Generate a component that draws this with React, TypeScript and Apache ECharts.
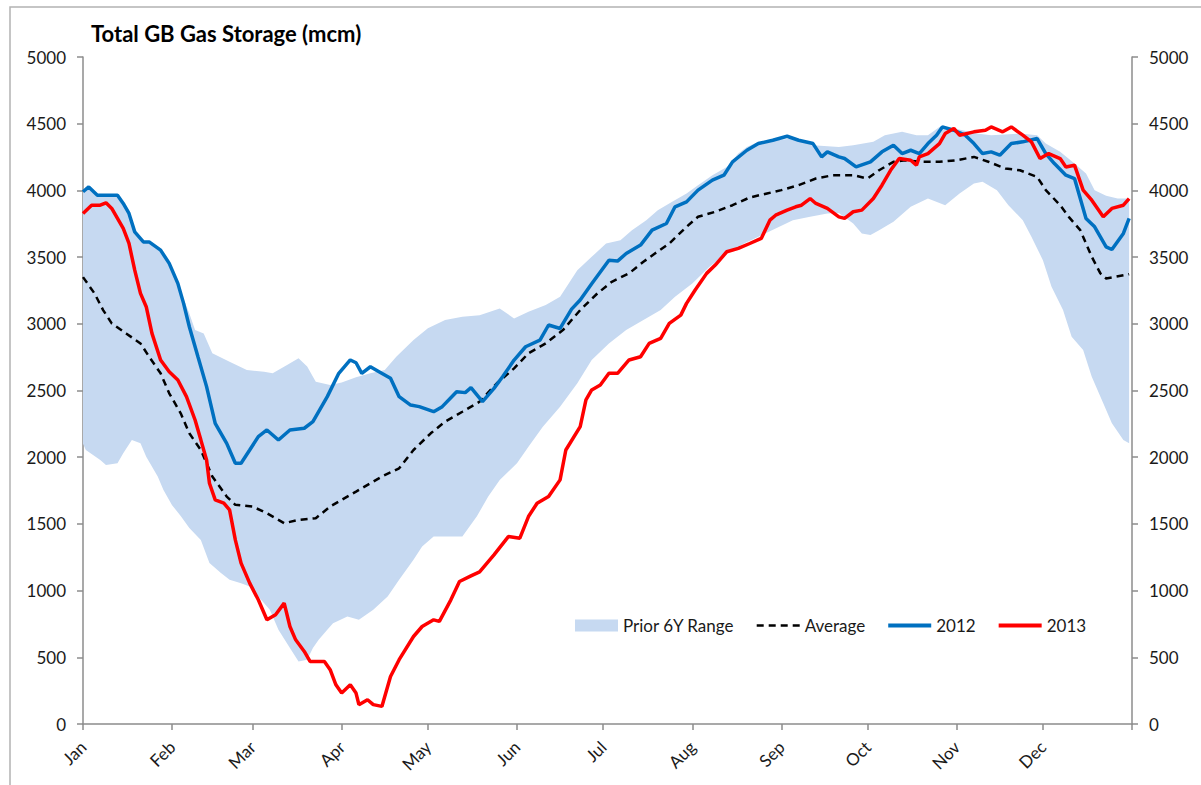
import React, { useEffect, useRef } from "react";
import * as echarts from "echarts";

// ---- Axis definitions ----
const MONTHS = ["Jan", "Feb", "Mar", "Apr", "May", "Jun", "Jul", "Aug", "Sep", "Oct", "Nov", "Dec"];
const MONTH_START_DAYS = [0, 31, 59, 90, 120, 151, 181, 212, 243, 273, 304, 334];
const YEAR_DAYS = 365;
const Y_MIN = 0;
const Y_MAX = 5000;
const Y_STEP = 500;

// ---- Data: [day of year, mcm] ----
const range6yUpper: [number, number][] = [
  [0, 3990], [2, 4020], [5, 3960], [10, 3960], [12, 3960], [14, 3900], [16, 3825], [18, 3690], [21, 3614], [23, 3614],
  [27, 3555], [30, 3460], [34, 3240], [37, 3078], [39, 2953], [42, 2928], [45, 2779], [51, 2716], [57, 2654], [63, 2641],
  [66, 2629], [71, 2691], [75, 2741], [78, 2679], [81, 2566], [86, 2541], [90, 2560], [95, 2600], [100, 2630], [105, 2654],
  [109, 2753], [115, 2878], [120, 2966], [126, 3028], [132, 3053], [138, 3065], [145, 3115], [150, 3040], [155, 3090], [161, 3140],
  [166, 3202], [172, 3402], [177, 3502], [182, 3602], [187, 3627], [191, 3702], [196, 3777], [200, 3852], [205, 3914], [210, 3977],
  [214, 4039], [219, 4114], [224, 4176], [228, 4276], [231, 4326], [235, 4364], [247, 4389], [254, 4339], [263, 4326], [268, 4339],
  [275, 4364], [279, 4414], [285, 4439], [290, 4414], [294, 4414], [298, 4476], [302, 4470], [311, 4426], [316, 4414], [326, 4426],
  [332, 4414], [335, 4351], [340, 4289], [345, 4201], [349, 4126], [352, 4002], [356, 3960], [360, 3940], [364, 3940],
];

const range6yLower: [number, number][] = [
  [0, 2100], [1, 2054], [6, 1979], [8, 1942], [12, 1955], [14, 2029], [17, 2129], [20, 2104], [22, 2004], [26, 1855],
  [28, 1755], [31, 1640], [34, 1560], [37, 1470], [41, 1380], [44, 1206], [48, 1131], [51, 1081], [55, 1056], [58, 1031],
  [61, 956], [65, 856], [68, 706], [72, 569], [75, 469], [78, 482], [80, 569], [82, 631], [85, 706], [87, 756],
  [92, 806], [96, 781], [101, 856], [106, 956], [110, 1081], [115, 1231], [118, 1330], [122, 1405], [129, 1405], [132, 1405],
  [137, 1555], [141, 1705], [145, 1830], [151, 1955], [155, 2079], [160, 2229], [166, 2379], [172, 2554], [177, 2729], [183, 2853],
  [189, 2953], [195, 3028], [201, 3103], [206, 3202], [212, 3303], [218, 3427], [224, 3527], [230, 3602], [235, 3652], [241, 3715],
  [247, 3777], [253, 3802], [259, 3827], [263, 3830], [268, 3752], [271, 3677], [274, 3665], [277, 3702], [282, 3765], [288, 3877],
  [294, 3939], [300, 3889], [305, 3977], [310, 4051], [313, 4064], [318, 4002], [322, 3889], [327, 3777], [330, 3652], [334, 3477],
  [337, 3277], [341, 3103], [344, 2903], [348, 2803], [351, 2603], [355, 2404], [358, 2254], [362, 2129], [364, 2104],
];

const average6y: [number, number][] = [
  [0, 3350], [4, 3228], [7, 3103], [10, 3003], [15, 2928], [20, 2853], [23, 2753], [27, 2629], [30, 2479], [34, 2329],
  [37, 2179], [41, 2054], [45, 1855], [50, 1705], [53, 1643], [59, 1630], [64, 1580], [70, 1505], [75, 1530], [81, 1543],
  [86, 1630], [90, 1680], [95, 1742], [100, 1805], [104, 1855], [110, 1917], [115, 2054], [121, 2179], [126, 2267], [132, 2341],
  [138, 2416], [144, 2554], [150, 2666], [155, 2779], [161, 2853], [167, 2953], [173, 3103], [179, 3228], [184, 3315], [190, 3378],
  [195, 3465], [199, 3527], [204, 3602], [210, 3727], [214, 3802], [220, 3840], [226, 3889], [232, 3947], [238, 3977], [243, 4002],
  [249, 4039], [255, 4089], [261, 4114], [268, 4114], [273, 4089], [277, 4151], [282, 4214], [286, 4226], [292, 4214], [298, 4214],
  [304, 4226], [310, 4251], [315, 4215], [321, 4164], [326, 4151], [332, 4101], [335, 4002], [340, 3889], [343, 3802], [347, 3702],
  [349, 3602], [351, 3502], [354, 3378], [356, 3340], [359, 3352], [364, 3372],
];

const storage2012: [number, number][] = [
  [0, 3990], [2, 4026], [5, 3964], [10, 3964], [12, 3964], [14, 3902], [16, 3827], [18, 3689], [21, 3614], [23, 3614],
  [27, 3552], [30, 3453], [33, 3303], [35, 3153], [37, 2978], [40, 2753], [43, 2529], [46, 2254], [50, 2104], [53, 1955],
  [55, 1955], [58, 2054], [61, 2154], [64, 2204], [68, 2129], [72, 2204], [77, 2217], [80, 2266], [85, 2454], [89, 2629],
  [93, 2729], [95, 2708], [97, 2629], [100, 2678], [103, 2641], [107, 2591], [110, 2454], [114, 2391], [117, 2379], [122, 2341],
  [125, 2379], [130, 2491], [133, 2484], [135, 2521], [139, 2416], [143, 2516], [146, 2603], [150, 2728], [154, 2828], [159, 2878],
  [162, 2991], [166, 2965], [170, 3110], [173, 3178], [177, 3300], [183, 3477], [186, 3470], [189, 3527], [194, 3590], [198, 3702],
  [203, 3752], [206, 3877], [210, 3914], [214, 4002], [219, 4077], [223, 4114], [226, 4214], [231, 4301], [235, 4351], [240, 4376],
  [245, 4406], [249, 4376], [254, 4351], [257, 4251], [259, 4289], [263, 4251], [265, 4239], [269, 4176], [274, 4214], [278, 4289],
  [282, 4339], [285, 4276], [288, 4301], [291, 4276], [294, 4351], [297, 4414], [299, 4476], [303, 4451], [307, 4414], [310, 4351],
  [313, 4276], [316, 4289], [319, 4264], [323, 4351], [327, 4364], [332, 4389], [335, 4276], [338, 4201], [342, 4114], [345, 4089],
  [349, 3790], [352, 3727], [356, 3577], [358, 3557], [362, 3677], [364, 3790],
];

const storage2013: [number, number][] = [
  [0, 3827], [3, 3889], [6, 3889], [8, 3907], [10, 3865], [12, 3790], [14, 3715], [16, 3602], [18, 3402], [20, 3228],
  [22, 3128], [24, 2928], [27, 2729], [30, 2641], [33, 2579], [36, 2454], [39, 2279], [41, 2130], [43, 1979], [44, 1805],
  [46, 1680], [49, 1655], [51, 1605], [53, 1380], [55, 1206], [58, 1056], [61, 931], [64, 781], [67, 819], [70, 906],
  [72, 731], [74, 631], [77, 544], [79, 469], [84, 469], [86, 407], [88, 294], [90, 232], [93, 294], [95, 232],
  [96, 145], [99, 182], [101, 145], [104, 132], [107, 356], [110, 482], [115, 656], [118, 731], [122, 781], [124, 769],
  [128, 931], [131, 1068], [135, 1110], [138, 1140], [143, 1268], [148, 1405], [152, 1393], [155, 1555], [158, 1655], [162, 1705],
  [166, 1830], [168, 2054], [173, 2229], [175, 2429], [177, 2504], [180, 2541], [183, 2629], [186, 2629], [190, 2729], [194, 2753],
  [197, 2853], [201, 2891], [204, 3003], [208, 3065], [210, 3153], [213, 3253], [217, 3378], [220, 3440], [224, 3540], [228, 3565],
  [232, 3602], [236, 3640], [239, 3777], [241, 3814], [245, 3852], [248, 3877], [250, 3889], [253, 3939], [255, 3902], [259, 3865],
  [263, 3802], [265, 3790], [268, 3840], [271, 3852], [275, 3939], [278, 4039], [281, 4151], [284, 4239], [288, 4226], [290, 4189],
  [291, 4251], [294, 4276], [298, 4351], [300, 4426], [303, 4464], [305, 4414], [310, 4439], [314, 4451], [316, 4476], [320, 4439],
  [323, 4476], [327, 4414], [330, 4364], [333, 4239], [336, 4276], [340, 4239], [342, 4176], [345, 4189], [348, 4002], [351, 3927],
  [355, 3802], [358, 3865], [362, 3889], [364, 3939],
];

// ---- Styles ----
const FONT = "Lato";
const AXIS_GRAY = "#8c8c8c";
const LABEL_COLOR = "#1a1a1a";
const BAND_COLOR = "#c6d9f1";
const BLUE = "#0070c0";
const RED = "#ff0000";
const LABEL_SIZE = 17;

export default function App() {
  const ref = useRef<HTMLDivElement>(null);

  useEffect(() => {
    document.body.style.margin = "0";
    if (!ref.current) return;
    const chart = echarts.init(ref.current, null, { renderer: "svg" });

    const yAxisBase = (position: "left" | "right") => ({
      type: "value",
      position,
      min: Y_MIN,
      max: Y_MAX,
      interval: Y_STEP,
      axisLine: { show: true, lineStyle: { color: AXIS_GRAY, width: 1.5 } },
      axisTick: { show: true, length: 6, lineStyle: { color: AXIS_GRAY, width: 1.5 } },
      axisLabel: {
        margin: 17,
        fontSize: LABEL_SIZE,
        color: LABEL_COLOR,
        fontFamily: FONT,
        formatter: (v: number) => String(v),
      },
      splitLine: { show: false },
    });

    const option: any = {
      animation: false,
      textStyle: { fontFamily: FONT },
      title: {
        text: "Total GB Gas Storage (mcm)",
        left: 91,
        top: 22,
        padding: 0,
        textStyle: { fontFamily: FONT, fontWeight: "bold", fontSize: 22, color: "#000" },
      },
      graphic: [
        {
          type: "rect",
          x: 10,
          y: 7,
          shape: { x: 0, y: 0, width: 1300, height: 900 },
          style: { fill: "none", stroke: "#b3b3b3", lineWidth: 1.5 },
          silent: true,
        },
      ],
      legend: {
        left: 570,
        top: 612,
        itemGap: 21,
        itemWidth: 43,
        itemHeight: 12,
        textStyle: { fontSize: LABEL_SIZE, color: LABEL_COLOR, fontFamily: FONT },
        data: [
          { name: "Prior 6Y Range", icon: "rect", itemStyle: { color: BAND_COLOR } },
          { name: "Average", itemStyle: { opacity: 0 }, lineStyle: { color: "#000", width: 2.5, type: [7, 5] } },
          { name: "2012", itemStyle: { opacity: 0 }, lineStyle: { color: BLUE, width: 4 } },
          { name: "2013", itemStyle: { opacity: 0 }, lineStyle: { color: RED, width: 4 } },
        ],
      },
      grid: { left: 83, right: 69, top: 57, bottom: 61, containLabel: false },
      xAxis: {
        type: "value",
        min: 0,
        max: YEAR_DAYS,
        axisLine: { show: true, onZero: false, lineStyle: { color: AXIS_GRAY, width: 1.5 } },
        axisTick: {
          show: true,
          length: 6,
          customValues: [...MONTH_START_DAYS, YEAR_DAYS],
          lineStyle: { color: AXIS_GRAY, width: 1.5 },
        },
        axisLabel: {
          customValues: MONTH_START_DAYS,
          formatter: (v: number) => MONTHS[MONTH_START_DAYS.indexOf(v)] ?? "",
          rotate: 45,
          margin: 20,
          fontSize: LABEL_SIZE,
          color: LABEL_COLOR,
          fontFamily: FONT,
        },
        splitLine: { show: false },
      },
      yAxis: [yAxisBase("left"), yAxisBase("right")],
      series: [
        {
          name: "Prior 6Y Range",
          type: "custom",
          xAxisIndex: 0,
          yAxisIndex: 0,
          z: 1,
          itemStyle: { color: BAND_COLOR },
          data: range6yUpper,
          encode: { x: 0, y: 1 },
          renderItem: (params: any, api: any) => {
            if (params.dataIndex !== 0) return { type: "group", children: [] };
            const pts: number[][] = [];
            for (const p of range6yUpper) pts.push(api.coord(p));
            for (let i = range6yLower.length - 1; i >= 0; i--) pts.push(api.coord(range6yLower[i]));
            return {
              type: "polygon",
              shape: { points: pts },
              style: { fill: BAND_COLOR, stroke: "none" },
            };
          },
        },
        {
          name: "Average",
          type: "line",
          z: 3,
          data: average6y,
          symbol: "none",
          color: "#000",
          lineStyle: { color: "#000", width: 2.5, type: [7, 5] },
        },
        {
          name: "2012",
          type: "line",
          z: 4,
          data: storage2012,
          symbol: "none",
          color: BLUE,
          lineStyle: { color: BLUE, width: 3.5 },
        },
        {
          name: "2013",
          type: "line",
          z: 5,
          data: storage2013,
          symbol: "none",
          color: RED,
          lineStyle: { color: RED, width: 3.5 },
        },
      ],
    };

    chart.setOption(option);
    return () => chart.dispose();
  }, []);

  return <div ref={ref} style={{ width: 1201, height: 785 }} />;
}
